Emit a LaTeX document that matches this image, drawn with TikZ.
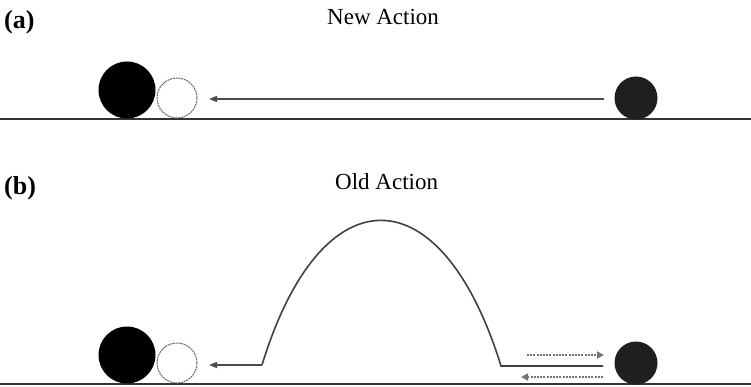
\documentclass[tikz,border=0pt]{standalone}
\usepackage{fontspec}
\setmainfont{Liberation Serif}
\usetikzlibrary{arrows.meta}
\begin{document}
\begin{tikzpicture}[x=1pt,y=-1pt,
  ground/.style={line width=2pt,draw=black!80},
  bigball/.style={circle,fill=black,minimum size=57pt,inner sep=0pt},
  ghost/.style={circle,draw=black!60,dash pattern=on 2pt off 0.8pt,line width=1pt,fill=white,minimum size=40pt,inner sep=0pt},
  ball/.style={circle,fill=black!88,minimum size=43pt,inner sep=0pt},
  mover/.style={line width=1.6pt,draw=black!70,-{Triangle[length=8pt,width=6pt]}},
  trail/.style={line width=1.6pt,draw=black!75},
  echo/.style={line width=2pt,draw=black!55,dash pattern=on 2pt off 1.2pt,-{Triangle[length=7pt,width=7pt]}},
  lbl/.style={font=\fontsize{26}{30}\selectfont\bfseries,anchor=base west,inner sep=0pt},
  ttl/.style={font=\fontsize{23}{27}\selectfont,anchor=base west,inner sep=0pt}]
\useasboundingbox (0,0) rectangle (751,387);
% panel (a)
\node[lbl] (la) at (4,29) {(a)};
\node[ttl] (ta) at (327,25) {New Action};
\draw[ground] (0,119) coordinate (ga1) -- (751,119) coordinate (ga2);
\node[bigball] (Ba) at (127,90) {};
\node[ghost] (Wa) at (177,98) {};
\node[ball] (Ra) at (636,98) {};
\coordinate (sa) at (604,99);
\coordinate (ea) at (209,99);
\draw[mover] (sa) -- (ea);
% panel (b)
\node[lbl] (lb) at (4,195) {(b)};
\node[ttl] (tb) at (335,190) {Old Action};
\draw[ground] (0,384) coordinate (gb1) -- (751,384) coordinate (gb2);
\node[bigball] (Bb) at (127,355) {};
\node[ghost] (Wb) at (177,363) {};
\node[ball] (Rb) at (636,363) {};
\coordinate (hr) at (603,366);
\coordinate (hbr) at (501,366);
\coordinate (hbl) at (262,365);
\coordinate (eb) at (209,365);
\draw[trail] (hr) -- (hbr) .. controls (441,172) and (321,172) .. (hbl);
\draw[mover] (hbl) -- (eb);
\coordinate (d1s) at (527,355);
\coordinate (d1e) at (604,355);
\coordinate (d2s) at (603,377);
\coordinate (d2e) at (521,377);
\draw[echo] (d1s) -- (d1e);
\draw[echo] (d2s) -- (d2e);
\end{tikzpicture}
\end{document}
